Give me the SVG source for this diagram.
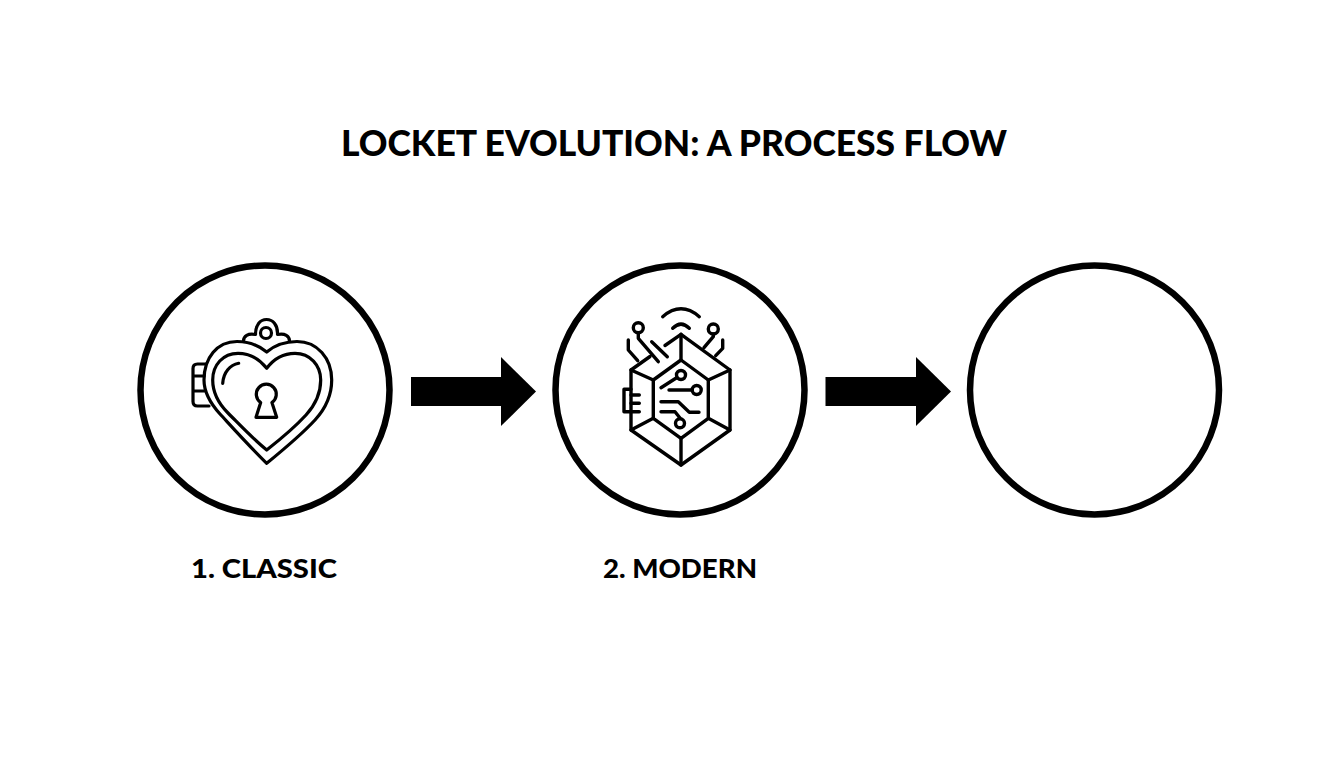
<svg xmlns="http://www.w3.org/2000/svg" width="1344" height="768" viewBox="0 0 1344 768">
<style>
.ring{fill:#fff;stroke:#000;stroke-width:6.5}
.ic{fill:none;stroke:#000;stroke-width:3.2;stroke-linecap:round;stroke-linejoin:round}
.ih{fill:none;stroke:#000;stroke-width:3.4;stroke-linejoin:round;stroke-linecap:round}
.t{font-family:"Lato","Liberation Sans",sans-serif;font-weight:900;fill:#000}
.conn{stroke:#000;stroke-width:29;fill:none}
</style>
<defs>
<marker id="ah" markerUnits="userSpaceOnUse" markerWidth="36" markerHeight="70" refX="0" refY="35" orient="auto"><polygon points="0,0.5 35,35 0,69.5" fill="#000"/></marker>
</defs>
<rect width="1344" height="768" fill="#fff"/>
<text id="title" class="t" x="674" y="156" font-size="36" text-anchor="middle" textLength="666" lengthAdjust="spacingAndGlyphs">LOCKET EVOLUTION: A PROCESS FLOW</text>
<g id="connectors">
<line class="conn" x1="411" y1="391.6" x2="501" y2="391.6" marker-end="url(#ah)"/>
<line class="conn" x1="825.500" y1="391.600" x2="916" y2="391.600" marker-end="url(#ah)"/>
</g>
<g id="node-classic">
<circle class="ring" cx="265" cy="390" r="124.500"/>
<g class="ic">
<path d="M206 364H197.500Q193 364 193 368.500V401.500Q193 406 197.500 406H209M193 376H204M193 391H204"/>
<path d="M243.500 341C243.500 336 248 333 255.500 334.500C255.500 325 260 319.500 266.500 319.500C273 319.500 278 325 277.500 334.500C285 333 289.500 336 289.500 341"/>
<circle cx="266" cy="333" r="5.500"/>
<path d="M266.700 352C258 345 248 341.500 237 341.500C217 341.500 204 358 204 380C204 392 210 403 220 414C232 427 250 447 266.700 463.300C283 450 302 434 315 420C326 408 331.700 396 331.700 380C331.700 358 317 341.500 297 341.500C286 341.500 275 345 266.700 352Z"/>
<path d="M266.700 368.300C259 358.500 249 353.300 238 353.300C223 353.300 212.700 365 212.700 380C212.700 392 218 403 228 413C240 425 252 438 266.700 450C282 438 295 427 306 415C316 404 320.700 392 320.700 380C320.700 365 310 353.300 295 353.300C284 353.300 274 358.500 266.700 368.300Z"/>
<path d="M222.700 383.300C223.500 372 230 365 238.700 363.300"/>
<path d="M260.700 402.500A10 10 0 1 1 271.900 402.500L276.700 417.300H256Z"/>
</g>
</g>
<g id="node-modern">
<circle class="ring" cx="680" cy="390" r="124.500"/>
<g class="ih">
<path d="M662.700 316.700Q681 301 699.300 316.700M672.700 328.300Q681 320 689.300 328.300"/>
<circle cx="638.300" cy="327.700" r="5"/>
<circle cx="713.300" cy="329" r="5"/>
<path d="M638.300 332.700V338.300L658.300 361.700M628.300 340V350L637.700 360.700M651.700 341.700L667.300 356.700M713.300 334V336.700L704 347.700M722.700 340V348.300L715.700 355.700"/>
<path d="M665 345.500L681 334.300L730 370V430L681 465L631 430V370L650 356.500"/>
<path d="M681 360L708.300 380V418.300L681 438.300L653.300 418.300V380Z"/>
<path d="M681 334.300V360M730 370L708.300 380M730 430L708.300 418.300M681 465V438.300M631 430L653.300 418.300M631 370L653.300 380"/>
<circle cx="681" cy="375" r="4.500"/>
<circle cx="696.700" cy="390" r="4.500"/>
<circle cx="680" cy="423.300" r="4.500"/>
<path d="M661 387.700L677 377.500M669 390H692M661 401.700H678.300L689.300 412.300H699M661 411.700H675L680 418"/>
<path d="M631 389.300H624V411.700H631M631 395H639.300M631 403.300H639.300M631 411.700H639.300"/>
</g>
</g>
<g id="node-empty">
<circle class="ring" cx="1094.500" cy="390" r="124.500"/>
</g>
<text id="label-classic" class="t" x="264" y="578" font-size="27" text-anchor="middle" textLength="146" lengthAdjust="spacingAndGlyphs">1. CLASSIC</text>
<text id="label-modern" class="t" x="680" y="578" font-size="27" text-anchor="middle" textLength="154" lengthAdjust="spacingAndGlyphs">2. MODERN</text>
</svg>
